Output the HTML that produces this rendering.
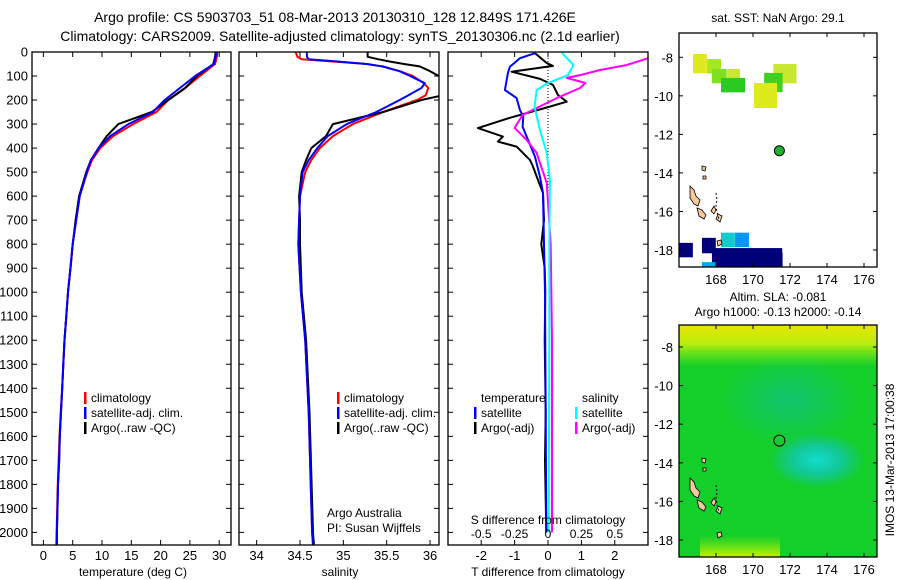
<!DOCTYPE html>
<html><head><meta charset="utf-8"><style>
html,body{margin:0;padding:0;background:#fff}
svg{display:block}
text{font-family:"Liberation Sans",sans-serif;fill:#000}
</style></head><body>
<svg id="fig" width="900" height="580" viewBox="0 0 900 580" xmlns="http://www.w3.org/2000/svg">
<defs>
<clipPath id="c1"><rect x="32" y="52" width="199" height="493"/></clipPath>
<clipPath id="c2"><rect x="239" y="52" width="200" height="493"/></clipPath>
<clipPath id="c3"><rect x="448" y="52" width="200" height="493"/></clipPath>
<clipPath id="cm1"><rect x="679" y="33" width="198" height="234"/></clipPath>
<clipPath id="cm2"><rect x="679" y="325" width="198" height="232"/></clipPath>
<radialGradient id="gBlob" cx="0.5" cy="0.5" r="0.5"><stop offset="0" stop-color="#14dccc"/><stop offset="0.5" stop-color="#12c898"/><stop offset="1" stop-color="#12c898" stop-opacity="0"/></radialGradient>
<radialGradient id="gTeal" cx="0.5" cy="0.5" r="0.5"><stop offset="0" stop-color="#10c470"/><stop offset="1" stop-color="#10c470" stop-opacity="0"/></radialGradient>
<linearGradient id="gTop" x1="0" y1="0" x2="0" y2="1"><stop offset="0" stop-color="#e8e400"/><stop offset="0.45" stop-color="#b8ee10"/><stop offset="1" stop-color="#80e818" stop-opacity="0"/></linearGradient>
<linearGradient id="gBot" x1="0" y1="1" x2="0" y2="0"><stop offset="0" stop-color="#c8f000"/><stop offset="1" stop-color="#90ec10" stop-opacity="0"/></linearGradient>
</defs>
<text x="335" y="22" font-size="14" text-anchor="middle">Argo profile: CS 5903703_51 08-Mar-2013 20130310_128 12.849S 171.426E</text>
<text x="340" y="41" font-size="14" text-anchor="middle">Climatology: CARS2009. Satellite-adjusted climatology: synTS_20130306.nc (2.1d earlier)</text>
<g id="p1"></g>
<g id="p2"></g>
<g id="p3"></g>
<g id="m1"></g>
<g id="m2"></g>
<text x="778" y="22" font-size="12" text-anchor="middle">sat. SST: NaN Argo: 29.1</text>
<text x="778" y="301" font-size="12" text-anchor="middle">Altim. SLA: -0.081</text>
<text x="778" y="316" font-size="12" text-anchor="middle">Argo h1000: -0.13 h2000: -0.14</text>
<text transform="translate(894,460) rotate(-90)" font-size="12" text-anchor="middle">IMOS 13-Mar-2013 17:00:38</text>
</svg>
<script>
// ---- data ----
const depthTicks = [0,100,200,300,400,500,600,700,800,900,1000,1100,1200,1300,1400,1500,1600,1700,1800,1900,2000];
const tempTicks = [0,5,10,15,20,25,30];
const salTicks = [34,34.5,35,35.5,36];
const salTickLabels = ["34","34.5","35","35.5","36"];
const tdiffTicks = [-2,-1,0,1,2];
const sdiffTicks = [-0.5,-0.25,0,0.25,0.5];
const sdiffTickLabels = ["-0.5","-0.25","0","0.25","0.5"];

const depthT = [0,20,50,100,150,200,250,300,350,400,450,500,600,700,800,900,1000,1100,1200,1300,1400,1500,1600,1700,1800,1900,2000,2050];
const tClim = [29.7,29.6,29.3,26.7,24.2,21.3,19.3,15.3,11.9,9.7,8.3,7.5,6.2,5.6,5.0,4.65,4.2,3.9,3.6,3.4,3.2,2.95,2.75,2.6,2.45,2.35,2.25,2.2];
const tSat = [29.5,29.4,29.1,25.9,23.3,20.7,18.7,14.5,11.4,9.4,8.1,7.4,6.2,5.6,5.0,4.6,4.2,3.9,3.6,3.4,3.2,3.0,2.8,2.7,2.5,2.4,2.3,2.3];
const tArgo = [29.4,29.3,29.0,26.2,24.2,21.3,18.5,12.8,10.8,9.4,8.1,7.3,6.1,5.5,5.0,4.6,4.2,3.9,3.6,3.4,3.2,3.0,2.8,2.7,2.5,2.4,2.3,2.3];

const depthS = [0,20,30,40,50,60,80,100,130,150,180,200,250,300,350,400,450,500,600,700,800,1000,1200,1500,2000,2050];
const sClim = [34.45,34.47,34.52,34.9,35.27,35.45,35.65,35.8,35.93,35.98,35.95,35.85,35.46,35.11,34.88,34.73,34.63,34.56,34.5,34.49,34.48,34.51,34.56,34.6,34.64,34.65];
const sSat = [34.58,34.58,34.6,34.95,35.27,35.45,35.65,35.77,35.94,35.9,35.75,35.65,35.38,35.04,34.82,34.7,34.6,34.53,34.5,34.49,34.48,34.51,34.56,34.6,34.64,34.65];
const sArgo = [35.28,35.28,35.4,35.54,35.7,35.88,36.0,36.1,36.2,36.3,36.15,35.9,35.46,34.88,34.8,34.63,34.57,34.52,34.49,34.5,34.5,34.52,34.57,34.61,34.65,34.66];

const dTsatDepth = [5,26,61,88,158,192,241,269,311,366,436,519,587,800,1000,1500,2000];
const dTsat = [-0.39,-0.84,-1.14,-1.2,-1.29,-0.94,-0.84,-0.74,-0.76,-0.6,-0.39,-0.24,-0.15,-0.12,-0.09,-0.07,-0.05];
const dTargoDepth = [5,46,58,82,112,137,179,207,233,274,317,352,373,394,450,477,533,587,700,800,900,1000,1200,1500,1700,2000];
const dTargo = [-0.39,-0.04,0.15,-1.09,-0.24,0.15,0.3,0.56,-0.09,-1.14,-2.1,-1.35,-1.5,-0.94,-0.54,-0.45,-0.3,-0.15,-0.12,-0.2,-0.1,-0.08,-0.1,-0.07,-0.09,-0.05];
const dSargoDepth = [0,26,54,75,96,108,129,150,192,233,262,316,366,420,545,800,1200,2000];
const dSargo = [0.9,0.75,0.59,0.39,0.24,0.14,0.28,0.24,0.065,-0.085,-0.19,-0.25,-0.16,-0.085,-0.01,0.02,0.03,0.03];
const dSsatDepth = [0,20,54,96,129,158,228,325,420,533,800,1200,2000];
const dSsat = [0.1,0.13,0.19,0.15,0,-0.085,-0.1,-0.06,-0.01,0.015,0.01,0.01,0.005];

const lonTicks = [168,170,172,174,176];
const latTicks = [-8,-10,-12,-14,-16,-18];
// SST cells: lon(left), lat(top), width deg, height deg, colour
const sstLon = [166.76,167.52,167.78,168.6,168.27,171.1,170.6,170.05,166.0,167.24,167.78,170.6,168.27,169.03,167.24];
const sstLat = [-7.83,-8.09,-8.6,-8.6,-9.07,-8.35,-8.81,-9.33,-17.63,-17.37,-17.9,-18.15,-17.1,-17.1,-18.63];
const sstW = [0.75,0.75,0.8,0.7,1.3,1.25,1.0,1.25,0.75,0.75,3.8,1.0,0.75,0.75,0.75];
const sstH = [1.0,0.75,0.75,0.5,0.75,1.0,1.0,1.3,0.75,0.8,1.0,0.8,0.75,0.75,0.3];
const sstCol = ["#dfe81e","#a6e81e","#80e020","#c8e830","#28cc20","#c8e830","#40d020","#dcea1e","#000078","#000078","#000078","#000078","#10cccc","#0099ee","#00aaee"];

// ---- helpers ----
const svg = document.getElementById('fig');
const NS = 'http://www.w3.org/2000/svg';
function mk(tag, parent, attrs){const e=document.createElementNS(NS,tag);for(const k in attrs)e.setAttribute(k,attrs[k]);parent.appendChild(e);return e;}
const Y0 = 52, YS = 0.2402;
const yD = d => Y0 + d*YS;
const xT = t => 43.4 + t*5.86;
const xS = s => 300 + (s-34.5)*86.7;
const xdT = v => 548 + v*33.4;
const xdS = v => 548 + v*133.6;
const mx = lon => 679 + (lon-166.0)*18.5;
const my1 = lat => 57.3 + (-8-lat)*19.27;
const my2 = lat => 347 + (-8-lat)*19.3;

function frame(g, x0, x1, y0, y1, name){
  const r = mk('rect', g, {x:x0, y:y0, width:x1-x0, height:y1-y0, fill:'none', stroke:'#000', 'stroke-width':1.3});
  
  
}
function depthAxis(g, x0, x1, labels){
  depthTicks.forEach(d=>{
    const y = yD(d);
    mk('line', g, {x1:x0, x2:x0+5, y1:y, y2:y, stroke:'#000'});
    mk('line', g, {x1:x1-5, x2:x1, y1:y, y2:y, stroke:'#000'});
    if(labels){
      const t = mk('text', g, {x:x0-4, y:y+4.5, 'font-size':13, 'text-anchor':'end'});
      t.textContent = d;
      
      
    }
  });
}
function xAxis(g, ticks, labels, fx, y0, y1){
  ticks.forEach((v,i)=>{
    const x = fx(v);
    mk('line', g, {x1:x, x2:x, y1:y1, y2:y1-5, stroke:'#000'});
    mk('line', g, {x1:x, x2:x, y1:y0, y2:y0+5, stroke:'#000'});
    const t = mk('text', g, {x:x, y:y1+15, 'font-size':13, 'text-anchor':'middle'});
    t.textContent = labels[i];
    
    
  });
}
function line(g, depths, vals, fx, col, clip, name){
  const pts = depths.map((d,i)=>fx(vals[i]).toFixed(1)+','+yD(d).toFixed(1)).join(' ');
  const p = mk('polyline', g, {points:pts, fill:'none', stroke:col, 'stroke-width':2, 'clip-path':'url(#'+clip+')', 'stroke-linejoin':'round'});
  
  
}
function txt(g, x, y, s, name, size, anchor){
  const t = mk('text', g, {x:x, y:y, 'font-size':size||12, 'text-anchor':anchor||'start'});
  t.textContent = s;
  
  
  return t;
}
function legend(g, x, y, col, s, name){
  const r = mk('rect', g, {x:x, y:y-10, width:2.5, height:12, fill:col});
  
  
  txt(g, x+7, y, s, name, 12);
}

// ---- panel 1 ----
const p1 = document.getElementById('p1');
line(p1, depthT, tClim, xT, '#ff0000', 'c1', 'temp-climatology-line');
line(p1, depthT, tArgo, xT, '#000000', 'c1', 'temp-argo-line');
line(p1, depthT, tSat, xT, '#0000ff', 'c1', 'temp-satellite-line');
frame(p1, 32, 231, 52, 545, 'temperature-plot-area');
depthAxis(p1, 32, 231, true);
xAxis(p1, tempTicks, tempTicks.map(String), xT, 52, 545);
txt(p1, 133, 576, 'temperature (deg C)', 'temperature-axis-title', 12, 'middle');
legend(p1, 84, 402, '#ff0000', 'climatology', 'legend-climatology');
legend(p1, 84, 417, '#0000ff', 'satellite-adj. clim.', 'legend-satellite-clim');
legend(p1, 84, 432, '#000000', 'Argo(..raw -QC)', 'legend-argo');

// ---- panel 2 ----
const p2 = document.getElementById('p2');
line(p2, depthS, sClim, xS, '#ff0000', 'c2', 'sal-climatology-line');
line(p2, depthS, sArgo, xS, '#000000', 'c2', 'sal-argo-line');
line(p2, depthS, sSat, xS, '#0000ff', 'c2', 'sal-satellite-line');
frame(p2, 239, 439, 52, 545, 'salinity-plot-area');
depthAxis(p2, 239, 439, false);
xAxis(p2, salTicks, salTickLabels, xS, 52, 545);
txt(p2, 340, 576, 'salinity', 'salinity-axis-title', 12, 'middle');
legend(p2, 337, 402, '#ff0000', 'climatology', 'legend-climatology-2');
legend(p2, 337, 417, '#0000ff', 'satellite-adj. clim.', 'legend-satellite-clim-2');
legend(p2, 337, 432, '#000000', 'Argo(..raw -QC)', 'legend-argo-2');
txt(p2, 327, 517, 'Argo Australia', 'credit-argo-australia', 12);
txt(p2, 327, 532, 'PI: Susan Wijffels', 'credit-pi', 12);

// ---- panel 3 ----
const p3 = document.getElementById('p3');
const dz = mk('line', p3, {x1:548, x2:548, y1:52, y2:yD(600), stroke:'#000', 'stroke-dasharray':'1,2'});


line(p3, dTargoDepth, dTargo, xdT, '#000000', 'c3', 'tdiff-argo-line');
line(p3, dTsatDepth, dTsat, xdT, '#0000ff', 'c3', 'tdiff-satellite-line');
line(p3, dSargoDepth, dSargo, xdS, '#ff00ff', 'c3', 'sdiff-argo-line');
line(p3, dSsatDepth, dSsat, xdS, '#00ffff', 'c3', 'sdiff-satellite-line');
frame(p3, 448, 648, 52, 545, 'difference-plot-area');
depthAxis(p3, 448, 648, false);
xAxis(p3, tdiffTicks, tdiffTicks.map(String), xdT, 52, 545);
sdiffTicks.forEach((v,i)=>{ txt(p3, xdS(v), 538, sdiffTickLabels[i], 'sdiff-tick-label', 12, 'middle'); });
txt(p3, 548, 524, 'S difference from climatology', 'sdiff-axis-title', 12, 'middle');
txt(p3, 548, 576, 'T difference from climatology', 'tdiff-axis-title', 12, 'middle');
txt(p3, 481, 402, 'temperature', 'legend-temperature-header', 12);
txt(p3, 582, 402, 'salinity', 'legend-salinity-header', 12);
legend(p3, 474, 417, '#0000ff', 'satellite', 'legend-t-satellite');
legend(p3, 474, 432, '#000000', 'Argo(-adj)', 'legend-t-argo');
legend(p3, 575, 417, '#00ffff', 'satellite', 'legend-s-satellite');
legend(p3, 575, 432, '#ff00ff', 'Argo(-adj)', 'legend-s-argo');

// ---- maps ----
function land(g, clip, offY){
  const shapes = [
    [[690,186],[694,190],[696,196],[700,200],[698,206],[694,204],[690,198]],
    [[697,208],[702,210],[706,215],[704,219],[699,216]],
    [[714,206],[716,210],[714,214],[711,211]],
    [[718,214],[722,216],[720,222],[716,219]],
    [[717,241],[721,240],[722,244],[718,246]],
    [[702,166],[706,167],[705,171],[702,170]],
    [[703,176],[706,176],[706,179],[703,179]]
  ];
  shapes.forEach(s=>{
    const p = mk('polygon', g, {points:s.map(q=>q[0]+','+(q[1]+offY)).join(' '), fill:'#f8c898', stroke:'#000', 'stroke-width':0.8, 'clip-path':'url(#'+clip+')'});
    
    
  });
  const arc = mk('polyline', g, {points:'716,193 717,200 716,206 717,212 719,220', fill:'none', stroke:'#000', 'stroke-width':1, 'stroke-dasharray':'2,2'});
  
  
  arc.setAttribute('transform', 'translate(0,'+offY+')');
}
function mapAxes(g, x0, x1, y0, y1, fy){
  lonTicks.forEach(l=>{
    const x = mx(l);
    mk('line', g, {x1:x, x2:x, y1:y1, y2:y1-4, stroke:'#000'});
    mk('line', g, {x1:x, x2:x, y1:y0, y2:y0+4, stroke:'#000'});
    txt(g, x, y1+17, String(l), 'lon-tick-label', 13, 'middle');
  });
  latTicks.forEach(l=>{
    const y = fy(l);
    mk('line', g, {x1:x0, x2:x0+4, y1:y, y2:y, stroke:'#000'});
    mk('line', g, {x1:x1-4, x2:x1, y1:y, y2:y, stroke:'#000'});
    txt(g, x0-6, y+5, String(l), 'lat-tick-label', 13, 'end');
  });
}
const m1 = document.getElementById('m1');
sstLon.forEach((lon,i)=>{
  const r = mk('rect', m1, {x:mx(lon), y:my1(sstLat[i]), width:sstW[i]*18.5, height:sstH[i]*19.27, fill:sstCol[i], 'clip-path':'url(#cm1)'});
  
  
});
land(m1, 'cm1', 0);
const pf1 = mk('circle', m1, {cx:mx(171.426), cy:my1(-12.849), r:5, fill:'#20b030', stroke:'#000'});


frame(m1, 679, 877, 33, 267, 'sst-map-frame');
mapAxes(m1, 679, 877, 33, 267, my1);

const m2 = document.getElementById('m2');
const bg = mk('rect', m2, {x:679, y:325, width:198, height:232, fill:'#16d21a'});


mk('rect', m2, {x:679, y:325, width:198, height:232, fill:'#10c84a', opacity:0.35});
mk('ellipse', m2, {cx:790, cy:400, rx:70, ry:45, fill:'url(#gTeal)', 'clip-path':'url(#cm2)'});
mk('ellipse', m2, {cx:817, cy:460, rx:48, ry:28, fill:'url(#gBlob)', 'clip-path':'url(#cm2)'});
mk('rect', m2, {x:679, y:325, width:198, height:42, fill:'url(#gTop)'});
mk('rect', m2, {x:700, y:535, width:80, height:22, fill:'url(#gBot)'});
land(m2, 'cm2', 292);
const pf2 = mk('circle', m2, {cx:mx(171.426), cy:my2(-12.849), r:5.5, fill:'none', stroke:'#000'});


frame(m2, 679, 877, 325, 557, 'sla-map-frame');
mapAxes(m2, 679, 877, 325, 557, my2);
</script>
</body></html>
